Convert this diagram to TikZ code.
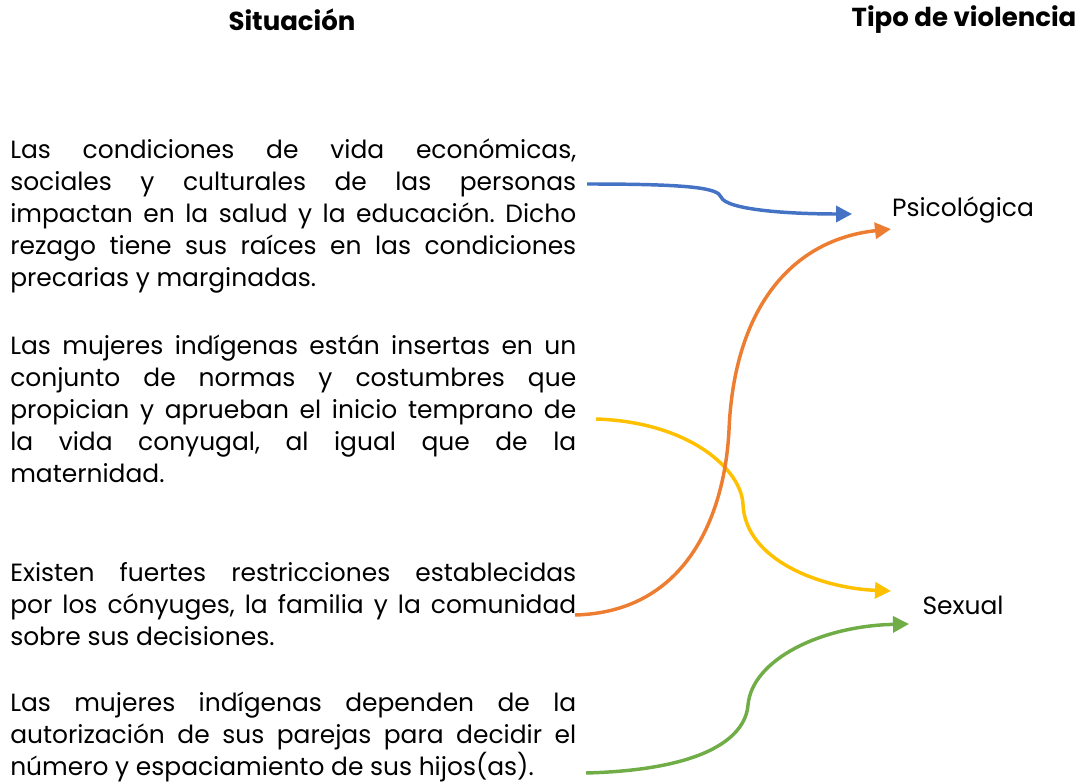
\documentclass[tikz,border=0pt]{standalone}
\usepackage{fontspec}
\setmainfont{Poppins}
\usetikzlibrary{positioning,arrows.meta}
\definecolor{SitBlue}{RGB}{68,114,196}
\definecolor{SitOrange}{RGB}{237,125,49}
\definecolor{SitYellow}{RGB}{255,192,0}
\definecolor{SitGreen}{RGB}{112,173,71}
\frenchspacing

\begin{document}
\begin{tikzpicture}[
x=0.75pt,y=-0.75pt,
para/.style={
anchor=north west,
inner sep=0pt,
text width=424.5pt,
align=justify,
font=\fontsize{18.7}{24}\selectfont
},
head/.style={
inner sep=0pt,
font=\fontsize{19.5}{24}\selectfont\bfseries
},
tipo/.style={
inner sep=0pt,
font=\fontsize{18.7}{24}\selectfont
},
arrow/.style={
-{Triangle[length=12pt,width=12pt]},
line width=2.6pt
}
]
\useasboundingbox (0,0) rectangle (1088,784);

\node[head] (sit) at (292,20) {Situación};
\node[head] (tipo) at (964,20) {Tipo de violencia};

\node[para] (a) at (10,139) {Las condiciones de vida económicas,\linebreak sociales y culturales de las personas\linebreak impactan en la salud y la educación. Dicho\linebreak rezago tiene sus raíces en las condiciones\linebreak precarias y marginadas.};
\node[para] (b) at (10,335) {Las mujeres indígenas están insertas en un\linebreak conjunto de normas y costumbres que\linebreak propician y aprueban el inicio temprano de\linebreak la vida conyugal, al igual que de la\linebreak maternidad.};
\node[para] (c) at (10,562) {Existen fuertes restricciones establecidas\linebreak por los cónyuges, la familia y la comunidad\linebreak sobre sus decisiones.};
\node[para] (d) at (10,692) {Las mujeres indígenas dependen de la\linebreak autorización de sus parejas para decidir el\linebreak número y espaciamiento de sus hijos(as).};

\node[tipo] (psic) at (963,210) {Psicológica};
\node[tipo] (sex) at (963,605) {Sexual};

\coordinate (a1) at (587,184);
\coordinate (b1) at (596,419);
\coordinate (c1) at (575,615);
\coordinate (d1) at (586,773);
\coordinate (psic1) at (852,214);
\coordinate (psic2) at (891,229);
\coordinate (sex1) at (891,591);
\coordinate (sex2) at (909,624);

\draw[arrow,SitBlue] (a1) .. controls (690,184) and (718,188) .. (721,197)
  .. controls (726,210) and (790,214) .. (psic1);
\draw[arrow,SitYellow] (b1) .. controls (690,422) and (742,470) .. (743,505)
  .. controls (746,560) and (820,588) .. (sex1);
\draw[arrow,SitOrange] (c1) .. controls (690,612) and (725,510) .. (729,430)
  .. controls (734,310) and (790,240) .. (psic2);
\draw[arrow,SitGreen] (d1) .. controls (700,770) and (745,740) .. (748,705)
  .. controls (752,660) and (820,626) .. (sex2);

\end{tikzpicture}
\end{document}
